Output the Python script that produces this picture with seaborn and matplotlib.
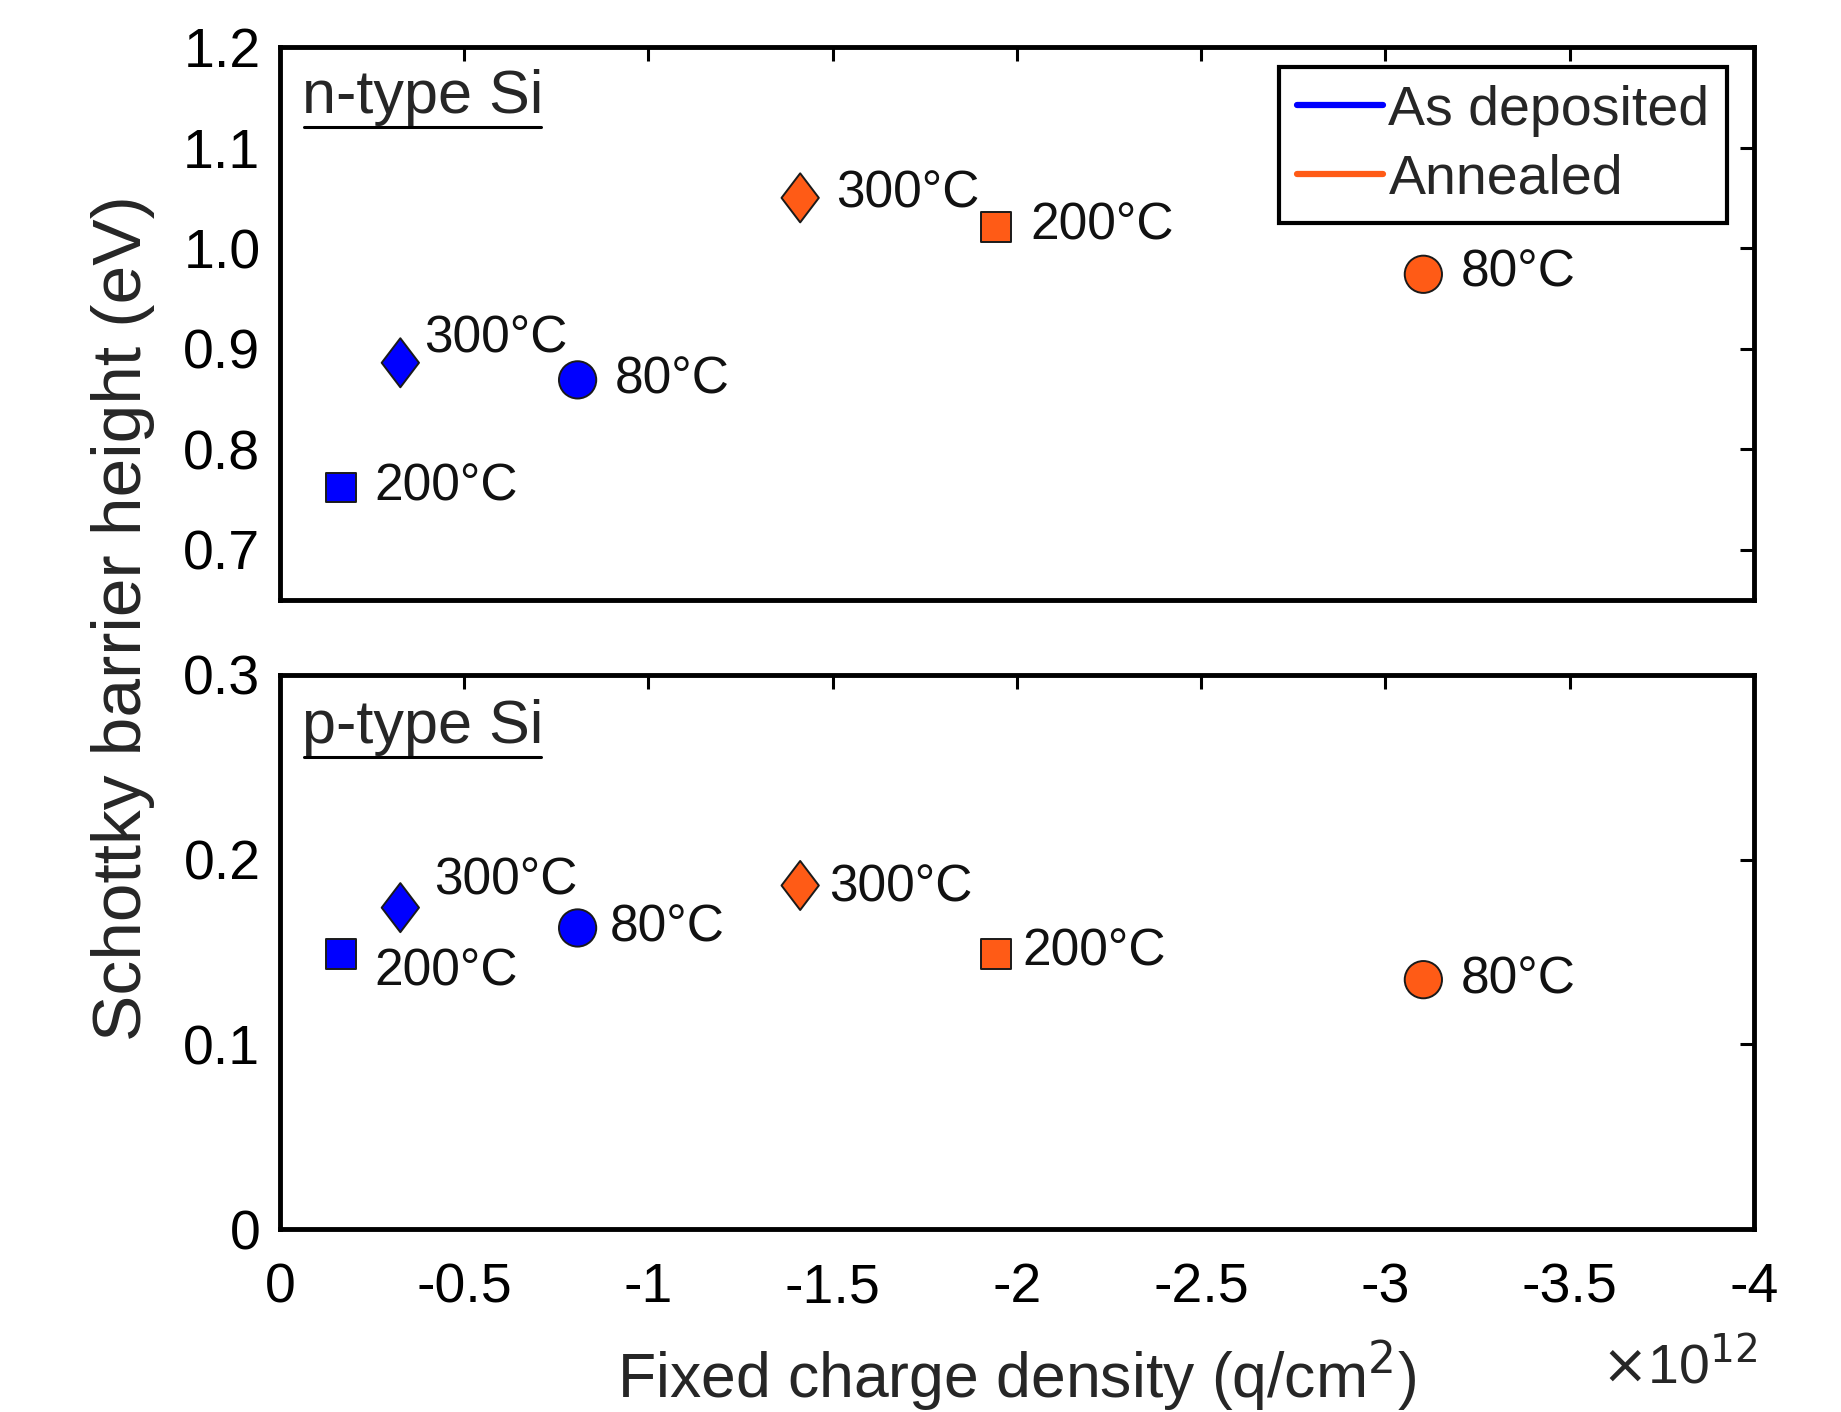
import numpy as np
import pandas as pd
import matplotlib
matplotlib.use("Agg")
import matplotlib.pyplot as plt
from matplotlib.lines import Line2D
from matplotlib.path import Path
import seaborn as sns

# ---------------- data ----------------
treatments = ["As deposited", "As deposited", "As deposited", "Annealed", "Annealed", "Annealed"]
temps = ["200°C", "300°C", "80°C", "300°C", "200°C", "80°C"]
charge_e12 = [-0.165, -0.327, -0.808, -1.412, -1.943, -3.103]   # x 10^12 q/cm^2
sbh_n = [0.762, 0.886, 0.869, 1.050, 1.021, 0.974]               # eV, n-type Si
sbh_p = [0.149, 0.174, 0.163, 0.186, 0.149, 0.135]               # eV, p-type Si

x_ticks = [0, -0.5, -1, -1.5, -2, -2.5, -3, -3.5, -4]
x_tick_labels = ["0", "-0.5", "-1", "-1.5", "-2", "-2.5", "-3", "-3.5", "-4"]
yn_ticks = [0.7, 0.8, 0.9, 1.0, 1.1, 1.2]
yn_tick_labels = ["0.7", "0.8", "0.9", "1.0", "1.1", "1.2"]
yp_ticks = [0, 0.1, 0.2, 0.3]
yp_tick_labels = ["0", "0.1", "0.2", "0.3"]

# label offsets (points) for each point annotation
off_n = [(24, 0), (17, 17), (27, 0), (26, 3), (25, 1), (27, 1)]
off_p = [(24, -13), (24, 19), (23, 0), (21, -2), (19, 1), (27, 0)]

df = pd.DataFrame({"treat": treatments, "temp": temps, "q": charge_e12,
                   "n": sbh_n, "p": sbh_p})

# ---------------- style ----------------
sns.set_theme(style="white")
plt.rcParams["font.family"] = ["Liberation Sans", "DejaVu Sans"]
plt.rcParams["axes.linewidth"] = 3.5
plt.rcParams["axes.edgecolor"] = "black"

BLUE = "#0000FF"
ORANGE = "#FF5B16"
palette = {"As deposited": BLUE, "Annealed": ORANGE}
diamond = Path([(0, 1), (0.76, 0), (0, -1), (-0.76, 0), (0, 1)],
               [Path.MOVETO, Path.LINETO, Path.LINETO, Path.LINETO, Path.CLOSEPOLY])
markers = {"80°C": "o", "200°C": "s", "300°C": diamond}
sizes = {"80°C": 720, "200°C": 460, "300°C": 1250}

fig = plt.figure(figsize=(18.41, 14.12), dpi=100)
left, right = 0.152, 0.9527
ax_n = fig.add_axes([left, 0.575, right - left, 0.9667 - 0.575])
ax_p = fig.add_axes([left, 0.1296, right - left, 0.522 - 0.1296])

for ax, ycol, offs in [(ax_n, "n", off_n), (ax_p, "p", off_p)]:
    sns.scatterplot(data=df, x="q", y=ycol, hue="treat", style="temp", size="temp",
                    palette=palette, markers=markers, sizes=sizes,
                    edgecolor="#1a1a1a", linewidth=1.4, legend=False, ax=ax, zorder=3)
    for i in range(len(df)):
        ax.annotate(df["temp"][i], (df["q"][i], df[ycol][i]), xytext=offs[i],
                    textcoords="offset points", ha="left", va="center",
                    fontsize=37, color="#111111")
    ax.set_xlim(0, -4)
    ax.set_xticks(x_ticks)
    ax.set_xlabel("")
    ax.set_ylabel("")
    ax.tick_params(direction="in", length=10, width=2.2, top=True, right=True,
                   labelsize=40, colors="black")
    ax.tick_params(axis="y", pad=14)
    ax.tick_params(axis="x", pad=24)
    for s in ax.spines.values():
        s.set_visible(True)
        s.set_linewidth(3.5)

ax_n.set_ylim(0.65, 1.2)
ax_n.set_yticks(yn_ticks)
ax_n.set_yticklabels(yn_tick_labels)
ax_n.set_xticklabels([])
ax_p.set_ylim(0, 0.3)
ax_p.set_yticks(yp_ticks)
ax_p.set_yticklabels(yp_tick_labels)
ax_p.set_xticklabels(x_tick_labels)

# panel labels
t_n = ax_n.text(0.015, 0.908, "n-type Si", transform=ax_n.transAxes, fontsize=44,
                ha="left", va="center")
t_p = ax_p.text(0.015, 0.906, "p-type Si", transform=ax_p.transAxes, fontsize=44,
                ha="left", va="center")

# legend
handles = [Line2D([], [], color=BLUE, lw=4.5), Line2D([], [], color=ORANGE, lw=4.5)]
leg = ax_n.legend(handles, ["As deposited", "Annealed"], loc="upper right",
                  bbox_to_anchor=(0.982, 0.964), borderaxespad=0, fontsize=40,
                  frameon=True, fancybox=False, edgecolor="black", framealpha=1,
                  handlelength=1.55, handletextpad=0.1, borderpad=0.32,
                  labelspacing=0.3)
leg.get_frame().set_linewidth(3.0)

fig.text(0.067, 0.562, "Schottky barrier height (eV)", rotation=90, fontsize=50,
         ha="center", va="center")
fig.text(0.552, 0.025, "Fixed charge density (q/cm$^2$)", fontsize=45,
         ha="center", va="center")
fig.text(0.9545, 0.031, r"$\times$10$^{12}$", fontsize=40, ha="right", va="center")

# underline panel labels
fig.canvas.draw()
r = fig.canvas.get_renderer()
for t in (t_n, t_p):
    bb = t.get_window_extent(r)
    y = bb.y0 - 1
    fig.add_artist(Line2D([bb.x0 + 2, bb.x1 - 2], [y, y], transform=None,
                          color="black", lw=2.2))

fig.savefig("out.png", dpi=100)
